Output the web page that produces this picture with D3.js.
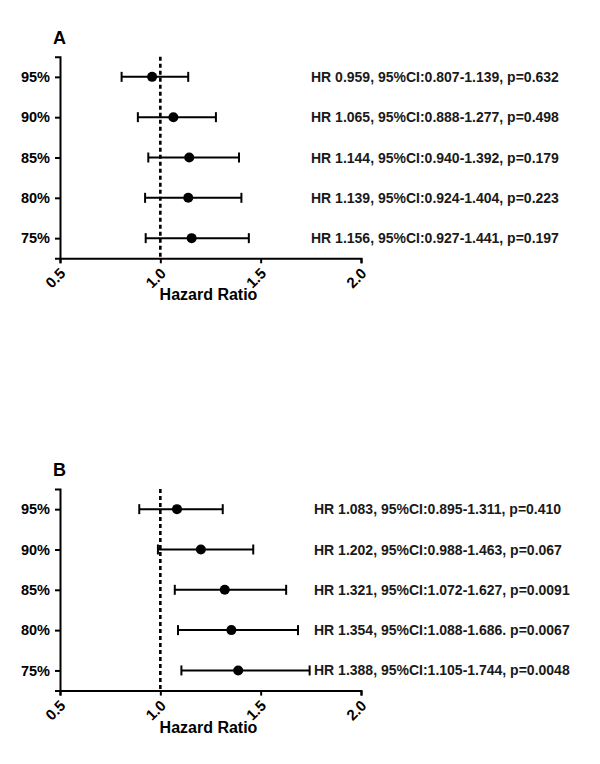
<!DOCTYPE html>
<html>
<head>
<meta charset="utf-8">
<script src="https://cdn.jsdelivr.net/npm/d3@7"></script>
<style>
  body { margin: 0; background: #fff; }
  svg { display: block; font-family: "Liberation Sans", Arial, sans-serif; font-weight: bold; }
</style>
</head>
<body>
<svg width="600" height="764"></svg>
<script>
// Categories (rows, top to bottom) and x-axis ticks
const categories = ["95%", "90%", "85%", "80%", "75%"];
const xTicks = [0.5, 1.0, 1.5, 2.0];

// Panel A values
const hrA = [0.959, 1.065, 1.144, 1.139, 1.156];
const lowA = [0.807, 0.888, 0.940, 0.924, 0.927];
const highA = [1.139, 1.277, 1.392, 1.404, 1.441];
const labelsA = [
  "HR 0.959, 95%CI:0.807-1.139, p=0.632",
  "HR 1.065, 95%CI:0.888-1.277, p=0.498",
  "HR 1.144, 95%CI:0.940-1.392, p=0.179",
  "HR 1.139, 95%CI:0.924-1.404, p=0.223",
  "HR 1.156, 95%CI:0.927-1.441, p=0.197"
];

// Panel B values
const hrB = [1.083, 1.202, 1.321, 1.354, 1.388];
const lowB = [0.895, 0.988, 1.072, 1.088, 1.105];
const highB = [1.311, 1.463, 1.627, 1.686, 1.744];
const labelsB = [
  "HR 1.083, 95%CI:0.895-1.311, p=0.410",
  "HR 1.202, 95%CI:0.988-1.463, p=0.067",
  "HR 1.321, 95%CI:1.072-1.627, p=0.0091",
  "HR 1.354, 95%CI:1.088-1.686. p=0.0067",
  "HR 1.388, 95%CI:1.105-1.744, p=0.0048"
];

const svg = d3.select("svg");
const plotLeft = 60, plotWidth = 301, plotHeight = 201.6;

const x = d3.scaleLinear().domain([0.5, 2.0]).range([0, plotWidth]);
const y = d3.scalePoint().domain(categories).range([0, plotHeight]).padding(0.5);

function drawPanel(letter, top, hr, low, high, labels, labelX) {
  const g = svg.append("g").attr("transform", `translate(${plotLeft}, ${top})`);

  // panel letter
  svg.append("text")
    .attr("x", 53).attr("y", top - 13)
    .attr("font-size", 18)
    .text(letter);

  // reference line at HR = 1
  g.append("line")
    .attr("x1", x(1)).attr("x2", x(1))
    .attr("y1", 0).attr("y2", plotHeight)
    .attr("stroke", "#000")
    .attr("stroke-width", 2.6)
    .attr("stroke-dasharray", "4,3");

  // x axis
  g.append("g")
    .attr("transform", `translate(0, ${plotHeight})`)
    .call(d3.axisBottom(x).tickValues(xTicks).tickFormat(d3.format(".1f")).tickSizeOuter(0).tickSize(5))
    .call(a => a.select(".domain").attr("stroke-width", 2))
    .call(a => a.selectAll(".tick line").attr("stroke-width", 2))
    .call(a => a.selectAll(".tick text")
      .attr("font-size", 15).attr("font-weight", "bold")
      .attr("font-family", "'Liberation Sans', Arial, sans-serif")
      .attr("fill", "#000")
      .attr("text-anchor", "end")
      .attr("y", 0).attr("dy", 0)
      .attr("transform", "translate(6, 16) rotate(-45)"));

  // y axis
  g.append("g")
    .call(d3.axisLeft(y).tickSizeOuter(0).tickSize(5).tickPadding(5))
    .call(a => a.select(".domain").attr("stroke-width", 2))
    .call(a => a.selectAll(".tick line").attr("stroke-width", 2))
    .call(a => a.selectAll(".tick text")
      .attr("font-size", 14.5).attr("font-weight", "bold")
      .attr("font-family", "'Liberation Sans', Arial, sans-serif")
      .attr("fill", "#000"));

  // x axis title
  g.append("text")
    .attr("x", plotWidth / 2 - 2)
    .attr("y", plotHeight + 42)
    .attr("text-anchor", "middle")
    .attr("font-size", 16)
    .text("Hazard Ratio");

  const rows = categories.map((c, i) => ({ c, hr: hr[i], lo: low[i], hi: high[i], label: labels[i] }));

  // confidence interval lines
  g.selectAll(".ci").data(rows).join("line")
    .attr("class", "ci")
    .attr("x1", d => x(d.lo)).attr("x2", d => x(d.hi))
    .attr("y1", d => y(d.c)).attr("y2", d => y(d.c))
    .attr("stroke", "#000").attr("stroke-width", 2);

  // caps
  g.selectAll(".cap-lo").data(rows).join("line")
    .attr("class", "cap-lo")
    .attr("x1", d => x(d.lo)).attr("x2", d => x(d.lo))
    .attr("y1", d => y(d.c) - 5).attr("y2", d => y(d.c) + 5)
    .attr("stroke", "#000").attr("stroke-width", 2);
  g.selectAll(".cap-hi").data(rows).join("line")
    .attr("class", "cap-hi")
    .attr("x1", d => x(d.hi)).attr("x2", d => x(d.hi))
    .attr("y1", d => y(d.c) - 5).attr("y2", d => y(d.c) + 5)
    .attr("stroke", "#000").attr("stroke-width", 2);

  // point estimates
  g.selectAll(".dot").data(rows).join("circle")
    .attr("class", "dot")
    .attr("cx", d => x(d.hr)).attr("cy", d => y(d.c))
    .attr("r", 5).attr("fill", "#000");

  // annotations
  g.selectAll(".note").data(rows).join("text")
    .attr("class", "note")
    .attr("x", labelX - plotLeft)
    .attr("y", d => y(d.c))
    .attr("dy", "0.36em")
    .attr("font-size", 14)
    .attr("fill", "#1a1a1a")
    .text(d => d.label);
}

drawPanel("A", 56.7, hrA, lowA, highA, labelsA, 311);
drawPanel("B", 489, hrB, lowB, highB, labelsB, 314);
</script>
</body>
</html>
